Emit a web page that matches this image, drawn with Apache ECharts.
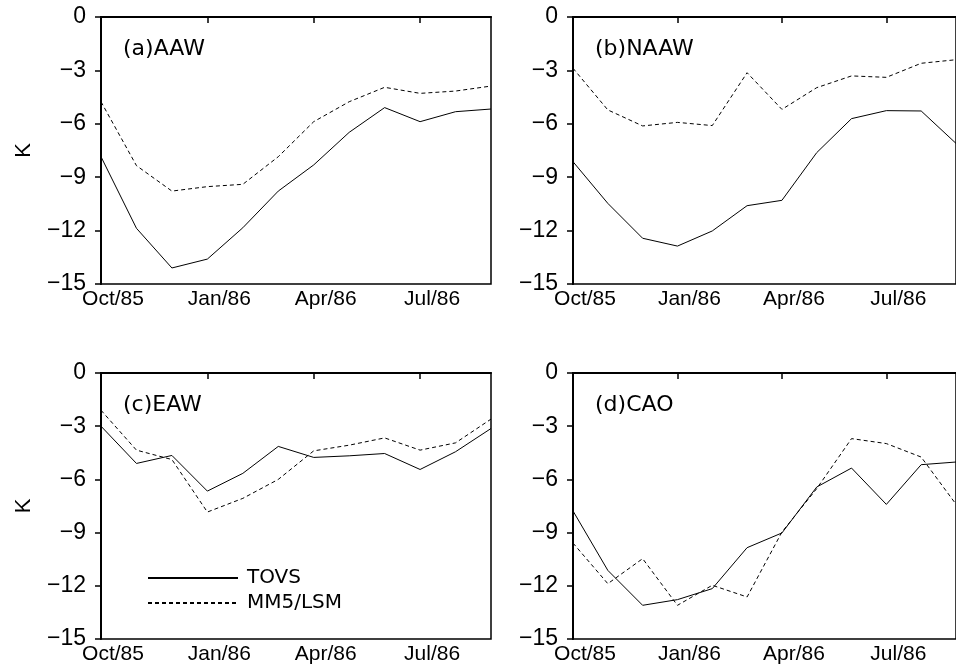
<!DOCTYPE html>
<html>
<head>
<meta charset="utf-8">
<title>TOVS vs MM5/LSM</title>
<script src="https://cdn.jsdelivr.net/npm/echarts@6/dist/echarts.min.js"></script>
<style>
  html, body { margin: 0; padding: 0; background: #fff; }
  #chart { width: 956px; height: 668px; }
</style>
</head>
<body>
<div id="chart"></div>
<script>
// months Oct/85 .. Sep/86
const months = ['Oct/85', 'Nov/85', 'Dec/85', 'Jan/86', 'Feb/86', 'Mar/86',
  'Apr/86', 'May/86', 'Jun/86', 'Jul/86', 'Aug/86', 'Sep/86'];
const yTicks = [0, -3, -6, -9, -12, -15];
const panelTitles = ['(a)AAW', '(b)NAAW', '(c)EAW', '(d)CAO'];
const seriesNames = ['TOVS', 'MM5/LSM'];

// values (K)
const aawTovs = [-7.85, -11.87, -14.1, -13.6, -11.84, -9.78, -8.31, -6.48, -5.09, -5.88, -5.32, -5.17];
const aawMm5 = [-4.76, -8.35, -9.78, -9.53, -9.4, -7.85, -5.88, -4.76, -3.95, -4.29, -4.16, -3.88];
const naawTovs = [-8.13, -10.47, -12.43, -12.87, -12.02, -10.6, -10.3, -7.62, -5.71, -5.26, -5.28, -7.1];
const naawMm5 = [-2.88, -5.22, -6.12, -5.92, -6.1, -3.13, -5.19, -3.97, -3.31, -3.39, -2.6, -2.4];
const eawTovs = [-3.0, -5.1, -4.65, -6.66, -5.66, -4.14, -4.76, -4.67, -4.54, -5.44, -4.44, -3.13];
const eawMm5 = [-2.1, -4.35, -4.88, -7.84, -7.07, -6.0, -4.39, -4.07, -3.66, -4.35, -3.94, -2.6];
const caoTovs = [-7.78, -11.13, -13.1, -12.78, -12.16, -9.85, -9.02, -6.43, -5.36, -7.41, -5.17, -5.02];
const caoMm5 = [-9.59, -11.88, -10.47, -13.1, -11.97, -12.63, -8.97, -6.52, -3.7, -3.98, -4.74, -7.4];

const panelData = [
  [aawTovs, aawMm5],
  [naawTovs, naawMm5],
  [eawTovs, eawMm5],
  [caoTovs, caoMm5]
];

// panel boxes (px); right column runs past the window edge like the original
const boxes = [
  { left: 101, top: 17, width: 390, height: 267 },
  { left: 573, top: 17, width: 392, height: 267 },
  { left: 101, top: 373, width: 390, height: 266 },
  { left: 573, top: 373, width: 392, height: 266 }
];

const numFont = 'Liberation Sans, Arial, sans-serif';
const titleFont = 'DejaVu Sans, sans-serif';

const chart = echarts.init(document.getElementById('chart'), null, { renderer: 'canvas' });

const grids = [], xAxes = [], yAxes = [], titles = [], series = [];

boxes.forEach((b, i) => {
  grids.push({
    left: b.left, top: b.top, width: b.width, height: b.height,
    show: true, borderColor: '#000', borderWidth: 1.5, backgroundColor: 'transparent'
  });
  xAxes.push({
    type: 'category', gridIndex: i, data: months, boundaryGap: false,
    axisLine: { lineStyle: { color: '#000', width: 2 } },
    axisTick: { interval: 2, length: 6, lineStyle: { color: '#000', width: 1.5 } },
    axisLabel: {
      interval: 2, color: '#000', fontFamily: numFont, fontSize: 21,
      margin: 5, padding: [0, 0, 0, 24]
    },
    splitLine: { show: false }
  });
  yAxes.push({
    type: 'value', gridIndex: i, min: -15, max: 0, interval: 3,
    name: i % 2 === 0 ? 'K' : '',
    nameLocation: 'middle', nameGap: 66, nameRotate: 90,
    nameTextStyle: { color: '#000', fontFamily: numFont, fontSize: 22 },
    axisLine: { show: true, lineStyle: { color: '#000', width: 2 } },
    axisTick: { show: true, length: 6, lineStyle: { color: '#000', width: 1.5 } },
    axisLabel: {
      color: '#000', fontFamily: numFont, fontSize: 23, margin: 15,
      formatter: v => (yTicks.indexOf(v) >= 0 ? String(v).replace('-', '\u2212') : '')
    },
    splitLine: { show: false }
  });
  titles.push({
    text: panelTitles[i], left: b.left + 17, top: b.top + 16,
    textStyle: { color: '#000', fontFamily: titleFont, fontSize: 22, fontWeight: 'normal' }
  });
  panelData[i].forEach((vals, k) => {
    series.push({
      type: 'line', name: seriesNames[k], xAxisIndex: i, yAxisIndex: i,
      data: vals, symbol: 'none', silent: true,
      itemStyle: { color: '#000' },
      lineStyle: { color: '#000', width: 1, type: k === 0 ? 'solid' : [4, 3] }
    });
  });
});

chart.setOption({
  animation: false,
  backgroundColor: '#fff',
  title: titles,
  grid: grids,
  xAxis: xAxes,
  yAxis: yAxes,
  legend: {
    data: seriesNames, orient: 'vertical', left: 147, top: 568,
    itemWidth: 90, itemHeight: 20, itemGap: 5, padding: 0,
    itemStyle: { opacity: 0 },
    textStyle: { color: '#000', fontFamily: titleFont, fontSize: 20, lineHeight: 20, padding: [0, 0, 0, 4] }
  },
  series: series
});
</script>
</body>
</html>
